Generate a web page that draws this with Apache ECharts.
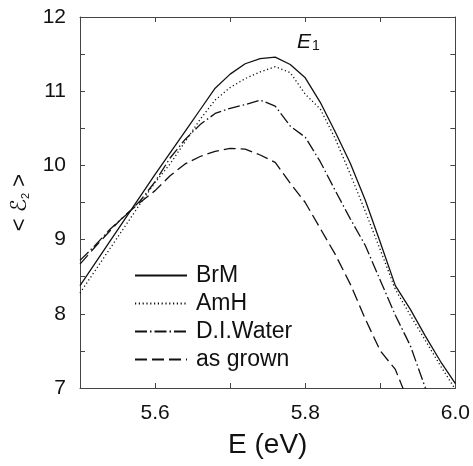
<!DOCTYPE html>
<html lang="en">
<head>
    <meta charset="UTF-8">
    <title>E2 spectra</title>
    <script src="https://cdn.jsdelivr.net/npm/echarts@6/dist/echarts.min.js"></script>
    <style>
        html, body { margin: 0; padding: 0; background: #fff; }
    </style>
</head>
<body>
    <div id="container" style="width: 473px; height: 466px;"></div>

    <script>
        // photon energy (eV)
        var energy = [5.50, 5.52, 5.54, 5.56, 5.58, 5.60, 5.62, 5.64, 5.66, 5.68, 5.70, 5.72, 5.74,
            5.76, 5.78, 5.80, 5.82, 5.84, 5.86, 5.88, 5.90, 5.92, 5.94, 5.96, 5.98, 6.00];

        // <e2> for each surface treatment
        var brm = [8.38, 8.68, 8.98, 9.28, 9.58, 9.88, 10.17, 10.46, 10.75, 11.04, 11.23, 11.37, 11.44,
            11.46, 11.36, 11.18, 10.85, 10.45, 10.03, 9.53, 8.96, 8.38, 8.06, 7.70, 7.36, 7.06];
        var amh = [8.28, 8.58, 8.88, 9.18, 9.48, 9.77, 10.02, 10.32, 10.62, 10.88, 11.05, 11.17, 11.26,
            11.33, 11.25, 10.96, 10.76, 10.36, 9.88, 9.38, 8.86, 8.33, 7.98, 7.64, 7.30, 6.98];
        var diWater = [8.72, 8.92, 9.14, 9.32, 9.52, 9.78, 10.10, 10.35, 10.55, 10.70, 10.77, 10.82, 10.88,
            10.80, 10.53, 10.38, 10.05, 9.66, 9.28, 8.92, 8.45, 7.98, 7.57, 7.00, 6.50, 6.00];
        var asGrown = [8.67, 8.90, 9.12, 9.33, 9.50, 9.66, 9.86, 10.02, 10.12, 10.19, 10.23, 10.22, 10.14,
            10.04, 9.76, 9.50, 9.15, 8.80, 8.40, 7.93, 7.50, 7.25, 6.75, 6.30, 6.00, 5.80];

        var names = ['BrM', 'AmH', 'D.I.Water', 'as grown'];
        var dashes = ['solid', [1.2, 2.6], [12, 3, 1.5, 3], [12, 5]];

        var xTicks = ['5.6', '5.8', '6.0'];

        function pairs(vals) {
            return energy.map(function (e, i) { return [e, vals[i]]; });
        }

        var font = '"Liberation Sans", Arial, sans-serif';

        var dom = document.getElementById("container");
        var myChart = echarts.init(dom, null, { renderer: 'canvas' });

        var axisCommon = {
            axisLine: { show: true, lineStyle: { color: '#444', width: 1 } },
            axisTick: { show: true, inside: true, length: 5, lineStyle: { color: '#444' } },
            splitLine: { show: false }
        };

        var series = [brm, amh, diWater, asGrown].map(function (vals, i) {
            return {
                name: names[i],
                type: 'line',
                data: pairs(vals),
                symbol: 'none',
                clip: true,
                lineStyle: { color: '#111', width: 1.3, type: dashes[i] },
                itemStyle: { color: '#111' }
            };
        });

        var option = {
            animation: false,
            textStyle: { fontFamily: font },
            grid: { left: 80, right: 16, top: 17, bottom: 78 },
            legend: {
                show: true,
                orient: 'vertical',
                left: 129,
                top: 259,
                itemWidth: 52,
                itemHeight: 14,
                itemGap: 5,
                data: names,
                itemStyle: { opacity: 0 },
                textStyle: { fontSize: 23, color: '#111', fontFamily: font, padding: [0, 0, 0, 4] }
            },
            xAxis: [
                Object.assign({
                    type: 'value',
                    min: 5.5,
                    max: 6.0,
                    interval: 0.1,
                    name: 'E (eV)',
                    nameLocation: 'middle',
                    nameGap: 43,
                    nameTextStyle: { fontSize: 28, color: '#111' },
                    axisLabel: {
                        fontSize: 21,
                        color: '#111',
                        margin: 15,
                        formatter: function (v) {
                            var s = v.toFixed(1);
                            return xTicks.indexOf(s) >= 0 ? s : '';
                        }
                    }
                }, axisCommon),
                Object.assign({
                    type: 'value',
                    position: 'top',
                    min: 5.5,
                    max: 6.0,
                    interval: 0.1,
                    axisLabel: { show: false }
                }, axisCommon)
            ],
            yAxis: [
                Object.assign({
                    type: 'value',
                    min: 7,
                    max: 12,
                    interval: 0.5,
                    name: '< {e|ℰ}{s|2} >',
                    nameLocation: 'middle',
                    nameGap: 49,
                    nameTextStyle: {
                        fontSize: 22,
                        color: '#111',
                        rich: {
                            e: { fontSize: 22, fontFamily: '"DejaVu Serif", "DejaVu Sans", serif', fontStyle: 'italic', color: '#111' },
                            s: { fontSize: 11, color: '#111', verticalAlign: 'bottom', padding: [10, 0, 0, 0] }
                        }
                    },
                    axisLabel: {
                        fontSize: 21,
                        color: '#111',
                        margin: 14,
                        formatter: function (v) {
                            return v % 1 === 0 ? String(v) : '';
                        }
                    }
                }, axisCommon),
                Object.assign({
                    type: 'value',
                    position: 'right',
                    min: 7,
                    max: 12,
                    interval: 0.5,
                    axisLabel: { show: false }
                }, axisCommon)
            ],
            graphic: [{
                type: 'text',
                left: 297,
                top: 32,
                style: {
                    text: '{e|E}{s|1}',
                    rich: {
                        e: { fontSize: 21, fontStyle: 'italic', fontFamily: font, fill: '#111' },
                        s: { fontSize: 14, fontFamily: font, fill: '#111', padding: [8, 0, 0, 1] }
                    }
                }
            }],
            series: series
        };

        if (option && typeof option === "object") {
            myChart.setOption(option, true);
        }
    </script>
</body>
</html>
